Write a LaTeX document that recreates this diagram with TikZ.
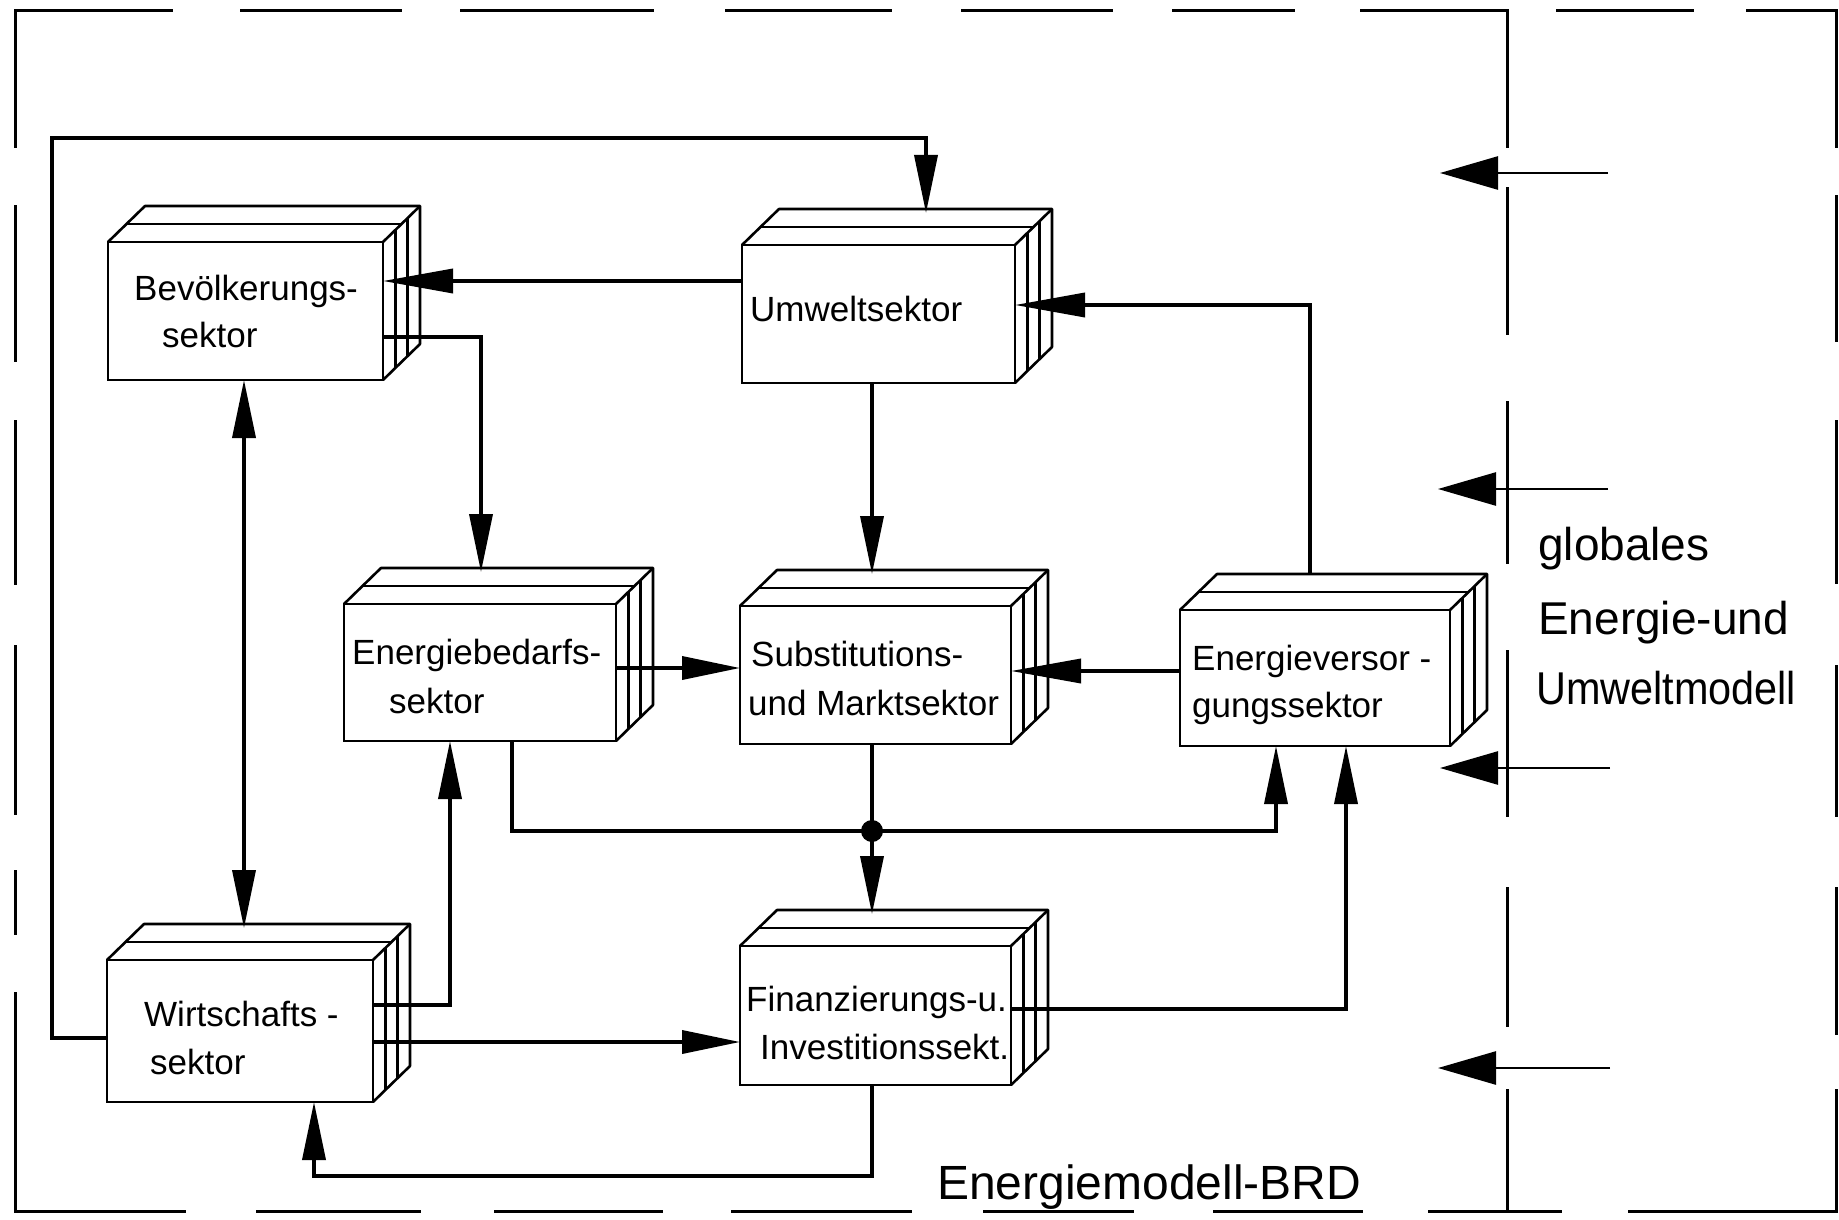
\documentclass[tikz,border=0pt]{standalone}
\usepackage{fontspec}
\setmainfont{Liberation Sans}
\usepackage{graphicx}
\usetikzlibrary{arrows.meta}
\newcommand{\bxf}{\fontsize{35pt}{42pt}\selectfont}
\newcommand{\glf}{\fontsize{46pt}{54pt}\selectfont}
\newcommand{\sektor}[5]{%
  \node[frontface, minimum width={(#4-#2)*1pt}, minimum height={(#5-#3)*1pt}] (#1) at ({(#2+#4)/2},{(#3+#5)/2}) {};
  \draw[edge3d] (#1.north west) -- ++(37,-36) -- ([shift={(37,-36)}]#1.north east) -- ([shift={(37,-36)}]#1.south east) -- (#1.south east);
  \draw[edge3d] (#1.north east) -- ++(37,-36);
  \draw[edge3d] ([shift={(18.5,-18)}]#1.north west) -- ([shift={(18.5,-18)}]#1.north east);
  \draw[edge3d] ([shift={(12.3,-12)}]#1.north east) -- ([shift={(12.3,-12)}]#1.south east);
  \draw[edge3d] ([shift={(24.7,-24)}]#1.north east) -- ([shift={(24.7,-24)}]#1.south east);
  \coordinate (#1top) at ([yshift=32pt]#1.north);
  \coordinate (#1back) at ([yshift=36pt]#1.north);
}
\tikzset{
  frontface/.style={draw, line width=2.6pt, fill=white, inner sep=0pt, outer sep=0pt},
  edge3d/.style={line width=2.6pt, line join=round},
  conn/.style={line width=3.6pt},
  arr/.style={conn, -{Triangle[length=58pt,width=23pt]}},
  arrL/.style={conn, -{Triangle[length=70pt,width=24pt]}},
  dbl/.style={conn, {Triangle[length=58pt,width=23pt]}-{Triangle[length=58pt,width=23pt]}},
  lbl/.style={anchor=base west, inner sep=0pt, font=\bxf},
  glbl/.style={anchor=base west, inner sep=0pt, font=\glf},
  border/.style={line width=3pt},
  ext/.style={line width=2.6pt, -{Triangle[length=58pt,width=33pt]}},
}
\begin{document}
\begin{tikzpicture}[x=1pt,y=-1pt]
\useasboundingbox (0,0) rectangle (1839,1220);
\fill[white] (0,0) rectangle (1839,1220);

% ---- dashed frames ----
\draw[border] (15,148) -- (15,11) -- (173,11);
\foreach \a/\b in {240/402,460/654,725/892,961/1113,1172/1295,1556/1694}
  \draw[border] (\a,11) -- (\b,11);
\draw[border] (1360,11) -- (1507,11) -- (1507,148);
\draw[border] (1746,11) -- (1836,11) -- (1836,148);
\foreach \a/\b in {205/362,420/585,645/815,870/935}
  \draw[border] (15,\a) -- (15,\b);
\draw[border] (15,992) -- (15,1211) -- (186,1211);
\foreach \a/\b in {187/335,401/564,650/817,887/1027}
  \draw[border] (1507,\a) -- (1507,\b);
\draw[border] (1507,1089) -- (1507,1211);
\foreach \a/\b in {195/342,420/584,665/817,887/1035}
  \draw[border] (1836,\a) -- (1836,\b);
\draw[border] (1628,1211) -- (1836,1211) -- (1836,1089);
\foreach \a/\b in {256/421,494/663,731/912,983/1134,1213/1363,1428/1562}
  \draw[border] (\a,1211) -- (\b,1211);

% ---- boxes ----
\sektor{bev}{108}{242}{383}{380}
\sektor{umw}{742}{245}{1015}{383}
\sektor{ebed}{344}{604}{616}{741}
\sektor{sub}{740}{606}{1011}{744}
\sektor{ever}{1180}{610}{1450}{746}
\sektor{wir}{107}{960}{373}{1102}
\sektor{fin}{740}{946}{1011}{1085}

% ---- box texts ----
\node[lbl] (bevA) at (134,300) {Bevölkerungs-};
\node[lbl] (bevB) at (162,347) {sektor};
\node[lbl] (umwA) at (750,321) {Umweltsektor};
\node[lbl] (ebedA) at (352,664) {Energiebedarfs-};
\node[lbl] (ebedB) at (389,713) {sektor};
\node[lbl] (subA) at (751,666) {Substitutions-};
\node[lbl] (subB) at (748,715) {und Marktsektor};
\node[lbl] (everA) at (1192,670) {Energieversor -};
\node[lbl] (everB) at (1192,717) {gungssektor};
\node[lbl] (wirA) at (144,1026) {Wirtschafts -};
\node[lbl] (wirB) at (150,1074) {sektor};
\node[lbl] (finA) at (746,1011) {Finanzierungs-u.};
\node[lbl] (finB) at (760,1059) {Investitionssekt.};

% ---- junction ----
\node[circle, fill=black, inner sep=0pt, minimum size=22pt] (dot) at (872,831) {};

% ---- connectors ----
\draw[arr] (wir.west |- 0,1038) -- (52,1038) -- (52,138) -- (926,138) -- (umwtop -| 926,0);
\draw[arrL] (umw.west |- 0,281) -- (bev.east |- 0,281);
\draw[arr] (bev.east |- 0,337) -- (481,337) -- (ebedtop -| 481,0);
\draw[dbl] (bev.south -| 244,0) -- (wirtop -| 244,0);
\draw[arr] (wir.east |- 0,1005) -- (450,1005) -- (ebed.south -| 450,0);
\draw[arr] (wir.east |- 0,1042) -- (fin.west |- 0,1042);
\draw[arr] (umw.south -| 872,0) -- (subtop -| 872,0);
\draw[arr] (ebed.east |- 0,668) -- (sub.west |- 0,668);
\draw[arrL] (ever.west |- 0,671) -- (sub.east |- 0,671);
\draw[arrL] (everback -| 1310,0) -- (1310,305) -- (umw.east |- 0,305);
\draw[arr] (ebed.south -| 512,0) -- (512,831) -- (1276,831) -- (ever.south -| 1276,0);
\draw[arr] (sub.south -| 872,0) -- (dot.center) -- (fintop -| 872,0);
\draw[arr] (fin.east |- 0,1009) -- (1346,1009) -- (ever.south -| 1346,0);
\draw[arr] (fin.south -| 872,0) -- (872,1176) -- (314,1176) -- (wir.south -| 314,0);

% ---- external inputs ----
\coordinate (g1t) at (1608,173); \coordinate (g1h) at (1440,173);
\coordinate (g2t) at (1608,489); \coordinate (g2h) at (1438,489);
\coordinate (g3t) at (1610,768); \coordinate (g3h) at (1440,768);
\coordinate (g4t) at (1610,1068); \coordinate (g4h) at (1438,1068);
\draw[ext] (g1t) -- (g1h);
\draw[ext] (g2t) -- (g2h);
\draw[ext] (g3t) -- (g3h);
\draw[ext] (g4t) -- (g4h);

% ---- frame labels ----
\node[glbl] (glA) at (1538,560) {globales};
\node[glbl] (glB) at (1538,634) {Energie-und};
\node[glbl] (glC) at (1536,704) {\scalebox{0.9}[1]{Umweltmodell}};
\node[anchor=base west, inner sep=0pt, font=\fontsize{48pt}{56pt}\selectfont] (brd) at (937,1199) {Energiemodell-BRD};
\end{tikzpicture}
\end{document}
